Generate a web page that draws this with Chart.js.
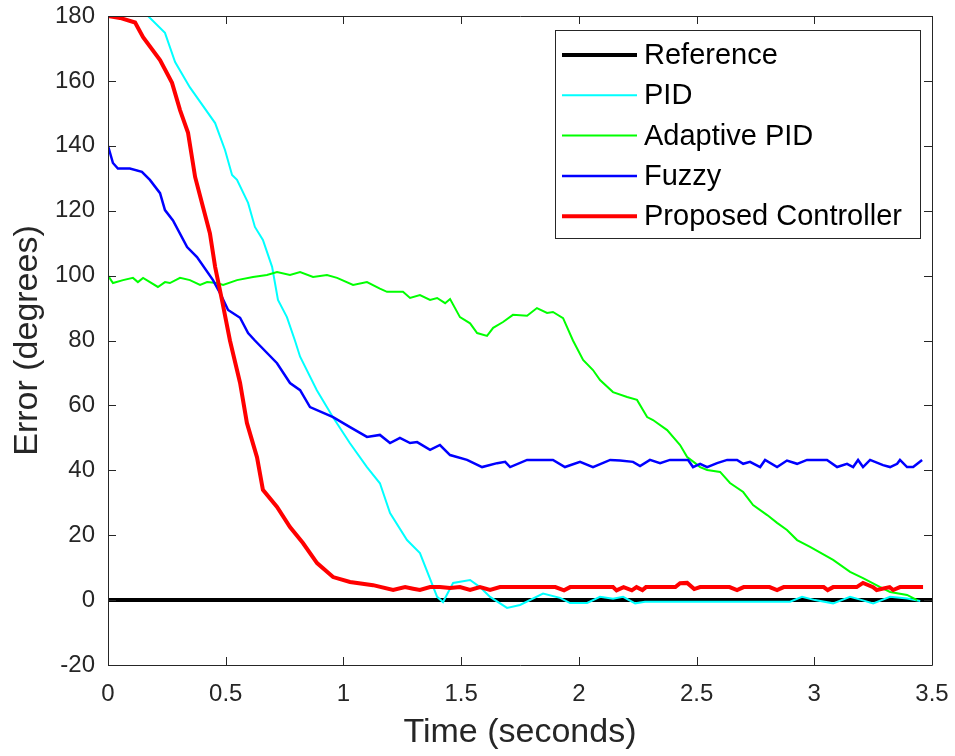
<!DOCTYPE html>
<html>
<head>
<meta charset="utf-8">
<script src="https://cdn.jsdelivr.net/npm/chart.js@4/dist/chart.umd.min.js"></script>
<style>
html,body{margin:0;padding:0;background:#fff;}
canvas{display:block;}
</style>
</head>
<body>
<canvas id="c" width="955" height="756"></canvas>
<script>
// ---- data ----
const seriesLabels = ['Reference', 'PID', 'Adaptive PID', 'Fuzzy', 'Proposed Controller'];
const xTickLabels = ['0', '0.5', '1', '1.5', '2', '2.5', '3', '3.5'];
const yTickLabels = ['-20', '0', '20', '40', '60', '80', '100', '120', '140', '160', '180'];

const refT = [0, 3.5];
const refV = [0, 0];

const pidT = [0, 0.17, 0.242, 0.285, 0.348, 0.455, 0.497, 0.527, 0.548, 0.595, 0.624, 0.658, 0.697, 0.722, 0.760, 0.794,
  0.816, 0.887, 0.955, 1.027, 1.100, 1.155, 1.198, 1.270, 1.325, 1.398, 1.423, 1.466, 1.538, 1.580, 1.623, 1.695, 1.750,
  1.848, 1.920, 1.963, 2.035, 2.090, 2.145, 2.188, 2.239, 2.281, 2.897, 2.948, 3.003, 3.080, 3.152, 3.203, 3.250, 3.322, 3.394, 3.450];
const pidV = [180, 180, 174.8, 165.8, 158, 147, 138.7, 131, 129.5, 122.4, 115, 111, 102.7, 92.5, 87.2, 80,
  75, 64.7, 56.4, 48.4, 41, 36, 26.8, 18.5, 14.5, 1, -0.6, 5.3, 6.2, 4, 1, -2.4, -1.5,
  2, 0.7, -0.9, -0.9, 1, 0.4, 1, -1, -0.5, -0.5, 1, 0, -1, 1, 0, -1, 1, 0.5, -0.3];

const adaptT = [0, 0.021, 0.064, 0.106, 0.127, 0.149, 0.212, 0.242, 0.263, 0.306, 0.348, 0.391, 0.421, 0.463, 0.489, 0.548,
  0.616, 0.675, 0.718, 0.773, 0.816, 0.871, 0.930, 0.973, 1.041, 1.100, 1.155, 1.185, 1.253, 1.283, 1.325, 1.368, 1.398,
  1.432, 1.453, 1.495, 1.538, 1.568, 1.610, 1.636, 1.678, 1.720, 1.780, 1.822, 1.865, 1.890, 1.933, 1.975, 2.018, 2.060,
  2.090, 2.145, 2.205, 2.247, 2.290, 2.315, 2.375, 2.430, 2.460, 2.494, 2.515, 2.545, 2.600, 2.642, 2.698, 2.740, 2.800,
  2.842, 2.884, 2.927, 2.982, 3.080, 3.152, 3.207, 3.280, 3.322, 3.394, 3.437];
const adaptV = [100, 97.7, 98.6, 99.3, 98, 99.3, 96.5, 98, 97.7, 99.3, 98.6, 97.1, 98, 97.7, 97.1, 98.6,
  99.6, 100.2, 101.1, 100.2, 101.1, 99.6, 100.2, 99.3, 97.1, 98, 96, 95, 95, 93.1, 94, 92.5, 93.1,
  91.5, 92.8, 87.2, 85.3, 82.3, 81.4, 83.9, 85.7, 87.9, 87.6, 90, 88.5, 88.8, 86.9, 80, 74, 70.9,
  67.8, 64.1, 62.6, 61.7, 56.4, 55.5, 52.4, 47.8, 44.1, 42.2, 41, 40.1, 39.5, 36.1, 33.3, 29.3, 26.2,
  23.8, 21.6, 18.5, 16.4, 12.4, 8.7, 6.8, 4, 2.5, 1.6, 0];

const fuzzyT = [0, 0.021, 0.042, 0.093, 0.144, 0.178, 0.221, 0.242, 0.276, 0.336, 0.378, 0.446, 0.476, 0.510, 0.561, 0.595,
  0.624, 0.718, 0.773, 0.816, 0.858, 0.956, 1.028, 1.100, 1.155, 1.198, 1.240, 1.283, 1.313, 1.368, 1.410, 1.453, 1.525,
  1.589, 1.653, 1.687, 1.708, 1.780, 1.890, 1.941, 2.005, 2.060, 2.133, 2.175, 2.230, 2.260, 2.302, 2.345, 2.387, 2.464,
  2.485, 2.515, 2.545, 2.587, 2.630, 2.672, 2.698, 2.727, 2.770, 2.791, 2.842, 2.884, 2.927, 2.969, 3.054, 3.097, 3.139,
  3.165, 3.186, 3.207, 3.237, 3.292, 3.322, 3.352, 3.364, 3.394, 3.420, 3.458];
const fuzzyV = [140, 134.7, 133, 133, 132, 129.5, 125.4, 120.2, 117, 108.8, 105.7, 98.6, 94.6, 89.4, 87, 82.3,
  80, 73, 66.9, 64.7, 59.5, 56.4, 53.3, 50.3, 50.9, 48.4, 50, 48.4, 48.7, 46.3, 47.8, 44.7, 43.2,
  41, 42.2, 42.6, 41, 43.2, 43.2, 41, 42.6, 41, 43.2, 43, 42.6, 41.3, 43.2, 42.2, 43.2, 43.2,
  41, 42, 41, 42.2, 43.2, 43.2, 42, 42.6, 41, 43.2, 41, 43, 42, 43.2, 43.2, 41, 42,
  41, 43.2, 41, 43.2, 41.6, 41, 42, 43.2, 41, 41, 43.2];

const propT = [0, 0.051, 0.115, 0.149, 0.221, 0.272, 0.306, 0.340, 0.370, 0.404, 0.433, 0.455, 0.484, 0.518, 0.561, 0.590,
  0.633, 0.658, 0.718, 0.773, 0.828, 0.888, 0.956, 1.028, 1.126, 1.211, 1.262, 1.296, 1.325, 1.368, 1.410, 1.453, 1.495,
  1.538, 1.580, 1.623, 1.665, 1.900, 1.937, 1.963, 2.145, 2.160, 2.190, 2.225, 2.245, 2.270, 2.285, 2.410, 2.430,
  2.460, 2.490, 2.515, 2.640, 2.672, 2.700, 2.810, 2.842, 2.870, 3.040, 3.057, 3.080, 3.180, 3.207, 3.250, 3.265,
  3.320, 3.335, 3.364, 3.462];
const propV = [180, 179.4, 178, 173.5, 166.4, 159.4, 151, 144, 130.4, 121, 113, 102.7, 92.5, 80, 66.9, 54.6,
  44, 34, 28.7, 22.5, 17.6, 11.4, 7.1, 5.6, 4.6, 3.1, 4, 3.5, 3.1, 4, 4, 3.7, 4,
  3.1, 4, 3.1, 4, 4, 3, 4, 4, 3, 4, 3, 4, 3.1, 4, 4, 5.2,
  5.3, 3.4, 4, 4, 3.1, 4, 4, 3.1, 4, 4, 3.1, 4, 4, 5.3, 4, 3.1,
  4, 3.1, 4, 4];

const seriesT = [refT, pidT, adaptT, fuzzyT, propT];
const seriesV = [refV, pidV, adaptV, fuzzyV, propV];
const seriesColors = ['#000000', '#00FFFF', '#00FF00', '#0000FF', '#FF0000'];
const seriesWidths = [4, 2, 2, 2.5, 4];

// ---- chart ----
const AXIS_COLOR = '#262626';
const FONT = '"Liberation Sans", Arial, Helvetica, sans-serif';
const TICK_LEN = 8;

const datasets = seriesLabels.map((lab, i) => ({
  label: lab,
  data: seriesT[i].map((t, k) => ({x: t, y: seriesV[i][k]})),
  borderColor: seriesColors[i],
  backgroundColor: seriesColors[i],
  borderWidth: seriesWidths[i],
  pointRadius: 0,
  tension: 0,
  fill: false,
  order: seriesLabels.length - i
}));

const boxPlugin = {
  id: 'matlabBox',
  afterDatasetsDraw(chart) {
    const {ctx, chartArea: a, scales} = chart;
    ctx.save();
    ctx.strokeStyle = AXIS_COLOR;
    ctx.lineWidth = 1;
    ctx.beginPath();
    ctx.rect(Math.round(a.left) + 0.5, Math.round(a.top) + 0.5, Math.round(a.right - a.left), Math.round(a.bottom - a.top));
    ctx.stroke();
    ctx.beginPath();
    scales.x.ticks.forEach(t => {
      const px = Math.round(scales.x.getPixelForValue(t.value)) + 0.5;
      ctx.moveTo(px, a.bottom); ctx.lineTo(px, a.bottom - TICK_LEN);
      ctx.moveTo(px, a.top); ctx.lineTo(px, a.top + TICK_LEN);
    });
    scales.y.ticks.forEach(t => {
      const py = Math.round(scales.y.getPixelForValue(t.value)) + 0.5;
      ctx.moveTo(a.left, py); ctx.lineTo(a.left + TICK_LEN, py);
      ctx.moveTo(a.right, py); ctx.lineTo(a.right - TICK_LEN, py);
    });
    ctx.stroke();
    ctx.restore();
  },
  afterDraw(chart) {
    // legend box (top-right, inside the axes)
    const {ctx} = chart;
    const bx = 555.5, by = 30.5, bw = 365, bh = 208;
    ctx.save();
    ctx.fillStyle = '#ffffff';
    ctx.fillRect(bx, by, bw, bh);
    ctx.strokeStyle = AXIS_COLOR;
    ctx.lineWidth = 1;
    ctx.strokeRect(bx, by, bw, bh);
    ctx.font = '29px ' + FONT;
    ctx.textBaseline = 'middle';
    ctx.textAlign = 'left';
    chart.data.datasets.forEach((ds, i) => {
      const y = 55 + i * 40.3;
      ctx.strokeStyle = ds.borderColor;
      ctx.lineWidth = ds.borderWidth;
      ctx.beginPath();
      ctx.moveTo(562, y); ctx.lineTo(637, y);
      ctx.stroke();
      ctx.fillStyle = '#000000';
      ctx.fillText(ds.label, 644, y + 1);
    });
    ctx.restore();
  }
};

new Chart(document.getElementById('c'), {
  type: 'line',
  data: {datasets},
  options: {
    responsive: false,
    animation: false,
    devicePixelRatio: 1,
    layout: {padding: {top: 16, right: 23, left: 0, bottom: 0}},
    plugins: {legend: {display: false}, tooltip: {enabled: false}},
    scales: {
      x: {
        type: 'linear', min: 0, max: 3.5,
        afterFit(s) { s.height = 91; s.paddingLeft = 0; s.paddingRight = 0; },
        afterBuildTicks(s) { s.ticks = xTickLabels.map(v => ({value: parseFloat(v)})); },
        ticks: {
          color: AXIS_COLOR, padding: 15, maxRotation: 0, autoSkip: false,
          font: {family: FONT, size: 24},
          callback: (v, i) => xTickLabels[i]
        },
        grid: {display: false, drawTicks: false, tickLength: 0},
        border: {display: false},
        title: {display: true, text: 'Time (seconds)', color: AXIS_COLOR,
          font: {family: FONT, size: 34}, padding: {top: 0, bottom: 3}}
      },
      y: {
        type: 'linear', min: -20, max: 180,
        afterFit(s) { s.width = 108; s.paddingTop = 0; s.paddingBottom = 0; },
        afterBuildTicks(s) { s.ticks = yTickLabels.map(v => ({value: parseFloat(v)})); },
        ticks: {
          color: AXIS_COLOR, padding: 13, autoSkip: false,
          font: {family: FONT, size: 24},
          callback: (v, i) => yTickLabels[i]
        },
        grid: {display: false, drawTicks: false, tickLength: 0},
        border: {display: false},
        title: {display: true, text: 'Error (degrees)', color: AXIS_COLOR,
          font: {family: FONT, size: 34}, padding: {top: 7, bottom: 0}}
      }
    }
  },
  plugins: [boxPlugin]
});
</script>
</body>
</html>
